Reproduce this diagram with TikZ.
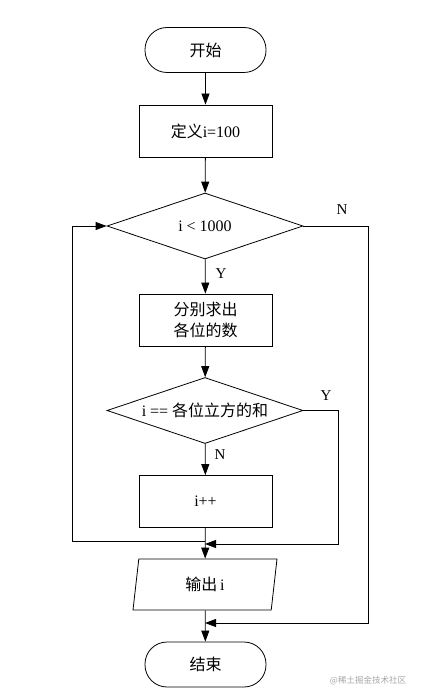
\documentclass[tikz,border=0pt]{standalone}
\usepackage{fontspec}
\setmainfont{Liberation Serif}
\newfontfamily\cjk{Noto Sans CJK SC}
\usetikzlibrary{shapes.geometric,arrows.meta}
\begin{document}
\begin{tikzpicture}[x=1pt,y=-1pt,
  every node/.style={font=\fontsize{16}{21}\selectfont},
  base/.style={draw,line width=0.8pt,inner sep=0pt,align=center},
  term/.style={base,rectangle,rounded corners=22pt,minimum width=121pt,minimum height=45pt},
  proc/.style={base,rectangle,minimum width=133pt,minimum height=52pt},
  dec/.style={base,diamond,aspect=3,minimum width=196pt,minimum height=66pt},
  io/.style={base,trapezium,trapezium left angle=68.6,trapezium right angle=111.4,trapezium stretches body,minimum width=144pt,minimum height=51pt},
  lbl/.style={font=\fontsize{15}{17}\selectfont},
  conn/.style={line width=0.8pt,-{Triangle[width=8pt,length=11pt]}},
  plain/.style={line width=0.8pt}]
\useasboundingbox (0,0) rectangle (421,700);
\node[term] (start) at (205.5,50) {\cjk 开始};
\node[proc] (def) at (205.5,131) {{\cjk 定义}i=100};
\node[dec] (d1) at (205,226) {i < 1000};
\node[proc] (calc) at (205.5,320) {\cjk 分别求出\\\cjk 各位的数};
\node[dec] (d2) at (205,410.5) {i == {\cjk 各位立方的和}};
\node[proc] (inc) at (205.5,501.5) {i++};
\node[io] (out) at (205,584.5) {{\cjk 输出}\,i};
\node[term] (stop) at (205.5,664.5) {\cjk 结束};
\coordinate (j1) at (205,543);
\coordinate (j2) at (205,623);
\coordinate (l1) at (72,541);
\coordinate (l2) at (72,226);
\coordinate (r1) at (338,410.5);
\coordinate (r2) at (338,544);
\coordinate (n1) at (368,226);
\coordinate (n2) at (368,623);
\draw[conn] (start) -- (def);
\draw[conn] (def) -- (d1);
\draw[conn] (d1) -- (calc);
\draw[conn] (calc) -- (d2);
\draw[conn] (d2) -- (inc);
\draw[conn] (inc) -- (out);
\draw[conn] (out) -- (stop);
\draw[plain] (j1 |- l1) -- (l1);
\draw[conn] (l1) -- (l2) -- (d1.west);
\draw[conn] (d2.east) -- (r1) -- (r2) -- (j1 |- r2);
\draw[conn] (d1.east) -- (n1) -- (n2) -- (j2);
\node[lbl] (ny) at (221,274) {Y};
\node[lbl] (nn) at (342,210) {N};
\node[lbl] (n2y) at (326,396) {Y};
\node[lbl] (n2n) at (220,455) {N};
\node[font=\fontsize{8.5}{10}\selectfont,text=gray!70] (wm) at (368,681) {\cjk @稀土掘金技术社区};
\end{tikzpicture}
\end{document}
